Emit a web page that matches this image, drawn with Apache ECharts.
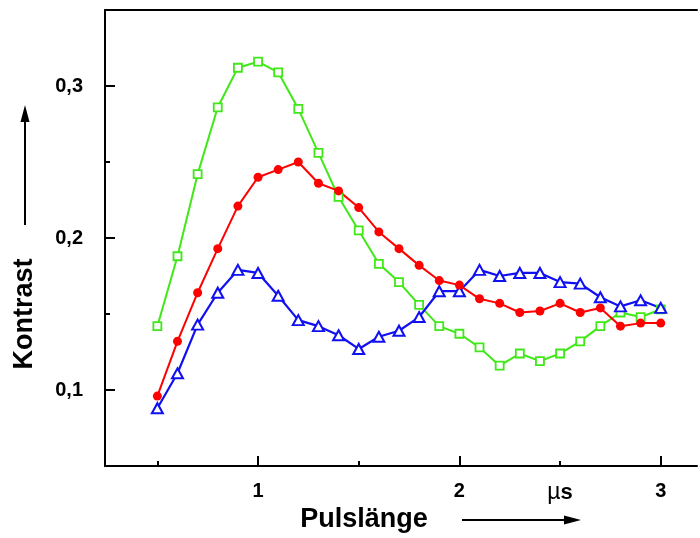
<!DOCTYPE html>
<html>
<head>
<meta charset="utf-8">
<script src="https://cdn.jsdelivr.net/npm/echarts@6/dist/echarts.min.js"></script>
<style>
html,body{margin:0;padding:0;background:#fff;}
#c{width:700px;height:538px;}
</style>
</head>
<body>
<div id="c"></div>
<script>
var xValues = [0.5,0.6,0.7,0.8,0.9,1.0,1.1,1.2,1.3,1.4,1.5,1.6,1.7,1.8,1.9,2.0,2.1,2.2,2.3,2.4,2.5,2.6,2.7,2.8,2.9,3.0];
var greenSquares = [0.142,0.188,0.242,0.286,0.312,0.316,0.309,0.285,0.256,0.227,0.205,0.183,0.171,0.156,0.142,0.137,0.128,0.116,0.124,0.119,0.124,0.132,0.142,0.151,0.148,0.153];
var redCircles = [0.096,0.132,0.164,0.193,0.221,0.240,0.245,0.250,0.236,0.231,0.220,0.204,0.193,0.182,0.172,0.169,0.160,0.157,0.151,0.152,0.157,0.151,0.154,0.142,0.144,0.144];
var blueTriangles = [0.088,0.111,0.143,0.164,0.179,0.177,0.162,0.146,0.142,0.136,0.127,0.135,0.139,0.148,0.165,0.165,0.179,0.175,0.177,0.177,0.171,0.170,0.161,0.155,0.159,0.154];
var xMajorTicks = [1,2,3];
var xMinorTicks = [0.5,1.5,2.5];
var xLabels = [1,2,2.5,3];
var yMajorTicks = [0.1,0.2,0.3];
var yMinorTicks = [0.15,0.25];

function pairs(ys){ return xValues.map(function(x,i){ return [x, ys[i]]; }); }

var FONT = '"Liberation Sans", Arial, sans-serif';
var chart = echarts.init(document.getElementById('c'), null, {renderer:'canvas'});
var xMin = 0.24, xMax = 3.18, yMin = 0.05, yMax = 0.35;

chart.setOption({
  animation: false,
  backgroundColor: '#fff',
  grid: {left: 105, top: 10, right: 3, bottom: 72, containLabel: false},
  xAxis: [
    {type:'value', min:xMin, max:xMax, position:'bottom',
     axisLine:{show:true, lineStyle:{color:'#000', width:2}},
     axisTick:{show:true, inside:true, length:10, customValues:xMajorTicks, lineStyle:{color:'#000', width:2}},
     axisLabel:{show:true, customValues:xLabels, margin:15, color:'#000', fontFamily:FONT, fontWeight:'bold', fontSize:20,
       formatter:function(v){ return v === 2.5 ? '{mu|µ}{s|s}' : String(v); },
       rich:{mu:{fontFamily:FONT, fontSize:23, fontWeight:'normal', color:'#000'}, s:{fontFamily:FONT, fontSize:22, fontWeight:'bold', color:'#000'}}},
     splitLine:{show:false}},
    {type:'value', min:xMin, max:xMax, position:'bottom',
     axisLine:{show:false},
     axisTick:{show:true, inside:true, length:5, customValues:xMinorTicks, lineStyle:{color:'#000', width:2}},
     axisLabel:{show:false}, splitLine:{show:false}},
    {type:'value', min:xMin, max:xMax, position:'top',
     axisLine:{show:true, lineStyle:{color:'#000', width:2}},
     axisTick:{show:false}, axisLabel:{show:false}, splitLine:{show:false}}
  ],
  yAxis: [
    {type:'value', min:yMin, max:yMax, position:'left',
     axisLine:{show:true, lineStyle:{color:'#000', width:2}},
     axisTick:{show:true, inside:true, length:10, customValues:yMajorTicks, lineStyle:{color:'#000', width:2}},
     axisLabel:{show:true, customValues:yMajorTicks, margin:22, color:'#000', fontFamily:FONT, fontWeight:'bold', fontSize:20,
       formatter:function(v){ return String(v).replace('.', ','); }},
     splitLine:{show:false}},
    {type:'value', min:yMin, max:yMax, position:'left',
     axisLine:{show:false},
     axisTick:{show:true, inside:true, length:5, customValues:yMinorTicks, lineStyle:{color:'#000', width:2}},
     axisLabel:{show:false}, splitLine:{show:false}}
  ],
  series: [
    {type:'line', name:'green', data:pairs(greenSquares), xAxisIndex:0, yAxisIndex:0,
     symbol:'rect', symbolSize:8, showAllSymbol:true,
     lineStyle:{color:'#40e818', width:2}, itemStyle:{color:'#fff', borderColor:'#40e818', borderWidth:1.8}},
    {type:'line', name:'blue', data:pairs(blueTriangles), xAxisIndex:0, yAxisIndex:0,
     symbol:'triangle', symbolSize:[11,10], showAllSymbol:true,
     lineStyle:{color:'#1010f0', width:2.2}, itemStyle:{color:'#fff', borderColor:'#1010f0', borderWidth:2}},
    {type:'line', name:'red', data:pairs(redCircles), xAxisIndex:0, yAxisIndex:0,
     symbol:'circle', symbolSize:9, showAllSymbol:true,
     lineStyle:{color:'#ff0000', width:2}, itemStyle:{color:'#ff0000', borderColor:'#ff0000', borderWidth:0}}
  ],
  graphic: [
    {type:'text', x:25, y:314, rotation:Math.PI/2,
     style:{text:'Kontrast', font:'bold 27px ' + FONT, fill:'#000', align:'center', verticalAlign:'middle'}},
    {type:'line', shape:{x1:25, y1:225, x2:25, y2:118}, style:{stroke:'#000', lineWidth:2}},
    {type:'polygon', shape:{points:[[25,105],[20.5,122],[29.5,122]]}, style:{fill:'#000'}},
    {type:'text', x:364, y:520,
     style:{text:'Pulslänge', font:'bold 27px ' + FONT, fill:'#000', align:'center', verticalAlign:'middle'}},
    {type:'line', shape:{x1:462, y1:520, x2:568, y2:520}, style:{stroke:'#000', lineWidth:2}},
    {type:'polygon', shape:{points:[[581,520],[564,515.5],[564,524.5]]}, style:{fill:'#000'}}
  ]
});
</script>
</body>
</html>
